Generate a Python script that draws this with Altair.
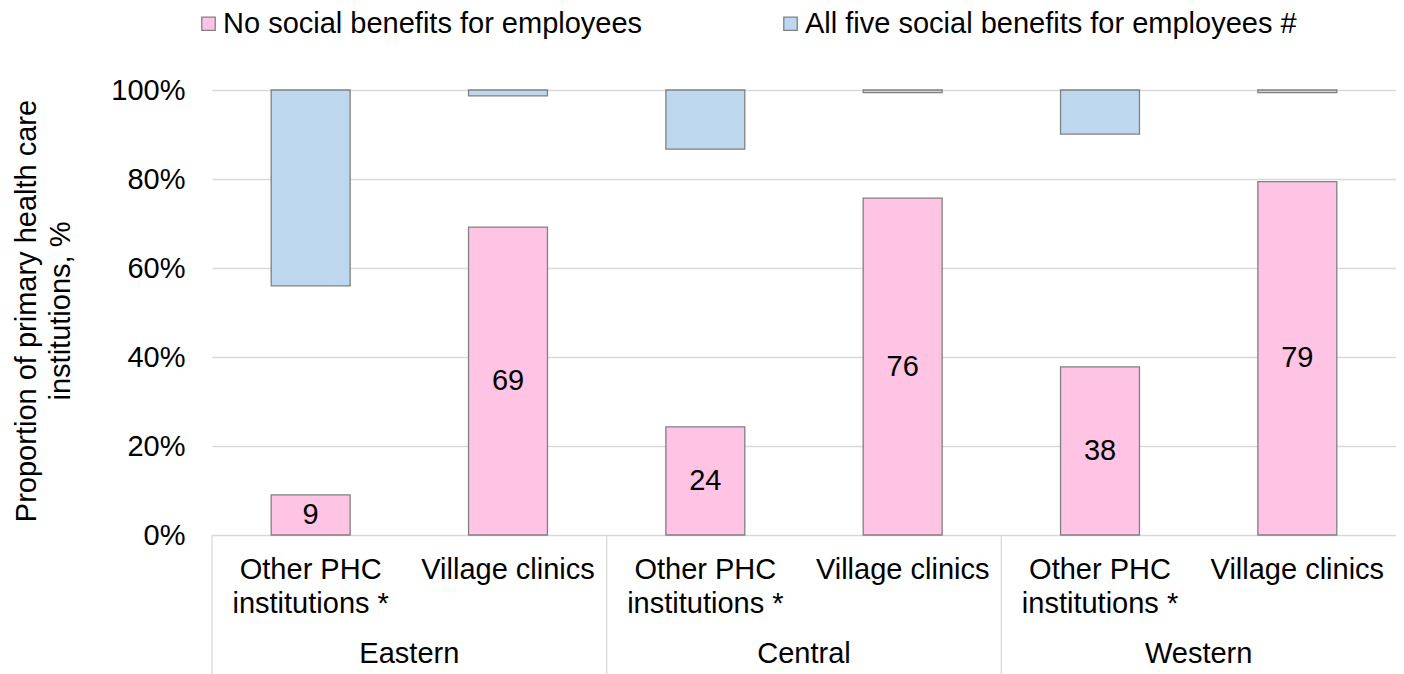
import altair as alt
import pandas as pd

regions = ["Eastern", "Eastern", "Central", "Central", "Western", "Western"]
types = ["Other PHC\ninstitutions *", "Village clinics"] * 3
no_benefits = [9.0, 69.2, 24.3, 75.7, 37.8, 79.4]
all_five = [44.0, 1.3, 13.3, 0.6, 9.9, 0.6]
series_names = ["No social benefits for employees", "All five social benefits for employees #"]
series_colors = ["#FFC4E3", "#BDD7EE"]
y_ticks = [0, 20, 40, 60, 80, 100]
group_names = ["Eastern", "Central", "Western"]

keys = [f"{r}|{t}" for r, t in zip(regions, types)]

rows = []
for k, r, t, v in zip(keys, regions, types, no_benefits):
    rows.append({"key": k, "region": r, "type": t, "series": series_names[0],
                 "y0": 0.0, "y1": v, "label": str(int(round(v)))})
for k, r, t, v in zip(keys, regions, types, all_five):
    rows.append({"key": k, "region": r, "type": t, "series": series_names[1],
                 "y0": 100.0 - v, "y1": 100.0, "label": ""})
df = pd.DataFrame(rows)
cats = pd.DataFrame({"key": keys, "type": types, "region": regions})
groups = pd.DataFrame({"key": [keys[0], keys[2], keys[4]], "region": group_names,
                       "mid": [keys[1], keys[3], keys[5]]})

FONT = "Liberation Sans"
FS = 29
H = 445
W = 1184
HALF_BAND = W / 12

xscale = alt.Scale(domain=keys, paddingInner=0, paddingOuter=0)
yscale = alt.Scale(domain=[0, 100], nice=False)

bars = alt.Chart(df).mark_bar(
    width={"band": 0.4}, stroke="#808080", strokeWidth=1.3
).encode(
    x=alt.X("key:N", scale=xscale, axis=None),
    y=alt.Y("y0:Q", scale=yscale,
            axis=alt.Axis(values=y_ticks, labelExpr="datum.value + '%'",
                          title=["Proportion of primary health care", "institutions, %"],
                          titleFontSize=FS, titleFontWeight="normal", titleFont=FONT,
                          titleColor="#000", titleAngle=-90, titleX=-177, titleY=H / 2 - 2,
                          titleAlign="center", titleBaseline="alphabetic", titleLineHeight=34,
                          labelFontSize=FS, labelFont=FONT, labelColor="#000", labelPadding=27,
                          ticks=False, domain=False, grid=True, gridColor="#D9D9D9",
                          gridWidth=1.3)),
    y2="y1:Q",
    color=alt.Color("series:N", scale=alt.Scale(domain=series_names, range=series_colors),
                    legend=alt.Legend(title=None, orient="none", direction="horizontal",
                                      legendX=-18, legendY=-81,
                                      symbolType="square", symbolSize=180,
                                      symbolStrokeColor="#808080", symbolStrokeWidth=1.3,
                                      labelFontSize=FS, labelFont=FONT, labelColor="#000",
                                      labelLimit=0, labelOffset=0, columnPadding=133,
                                      padding=0)),
)

labels = alt.Chart(df).transform_filter(
    alt.datum.label != ""
).transform_calculate(
    ym="(datum.y0 + datum.y1) / 2"
).mark_text(fontSize=FS, font=FONT, color="#000", baseline="middle").encode(
    x=alt.X("key:N", scale=xscale, axis=None),
    y=alt.Y("ym:Q", scale=yscale),
    text="label:N",
)

sub_labels = alt.Chart(cats).mark_text(
    fontSize=FS, font=FONT, color="#000", baseline="alphabetic", lineBreak="\n", lineHeight=34
).encode(
    x=alt.X("key:N", scale=xscale, axis=None),
    y=alt.value(H + 44),
    text="type:N",
)

group_labels = alt.Chart(groups).mark_text(
    fontSize=FS, font=FONT, color="#000", baseline="alphabetic", dx=-HALF_BAND
).encode(
    x=alt.X("mid:N", scale=xscale, axis=None),
    y=alt.value(H + 128),
    text="region:N",
)

separators = alt.Chart(groups).mark_rule(
    color="#D9D9D9", strokeWidth=1.3, xOffset=-HALF_BAND
).encode(
    x=alt.X("key:N", scale=xscale, axis=None),
    y=alt.value(H),
    y2=alt.value(H + 145),
)

chart = alt.layer(separators, bars, labels, sub_labels, group_labels).properties(
    width=W, height=H,
    autosize=alt.AutoSizeParams(type="none"),
    padding={"left": 204, "top": 82, "right": 0, "bottom": 139},
).configure_view(stroke=None)

chart.save("out.html", embed_options={"renderer": "svg", "actions": False})
